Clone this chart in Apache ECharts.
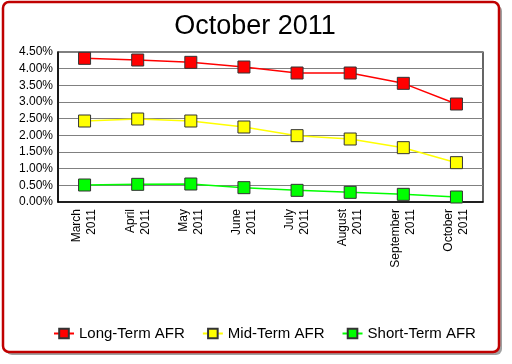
<!DOCTYPE html>
<html><head><meta charset="utf-8">
<script src="https://cdn.jsdelivr.net/npm/echarts@6/dist/echarts.min.js"></script>
<style>html,body{margin:0;padding:0;background:#fff}#c{width:512px;height:364px}</style>
</head><body><div id="c"></div>
<script>
const categories = ['March\n2011','April\n2011','May\n2011','June\n2011','July\n2011','August\n2011','September\n2011','October\n2011'];
const longTerm = [4.31, 4.26, 4.19, 4.05, 3.87, 3.87, 3.56, 2.94];
const midTerm = [2.43, 2.49, 2.43, 2.25, 1.99, 1.89, 1.63, 1.18];
const shortTerm = [0.51, 0.53, 0.54, 0.43, 0.35, 0.29, 0.23, 0.15];
const seriesNames = ['Long-Term AFR', 'Mid-Term AFR', 'Short-Term AFR'];
const colors = ['#ff0000', '#ffff00', '#00ff00'];

const chart = echarts.init(document.getElementById('c'), null, {renderer: 'canvas'});
const font = 'Liberation Sans, Arial, sans-serif';
function mk(name, data, color) {
  return {
    name: name, type: 'line', data: data,
    symbol: 'rect', symbolSize: 12,
    itemStyle: {color: color, borderColor: '#333', borderWidth: 1},
    lineStyle: {color: color, width: 1.5},
    emphasis: {disabled: true}, animation: false
  };
}
chart.setOption({
  animation: false,
  graphic: [
    {type: 'rect', shape: {x: 6, y: 5, width: 496, height: 350, r: 6}, style: {fill: '#777', opacity: 0.7}, z: -2, silent: true},
    {type: 'rect', shape: {x: 3, y: 2, width: 496, height: 350, r: 6}, style: {fill: '#fff', stroke: '#c00000', lineWidth: 2.5}, z: -1, silent: true}
  ],
  title: {text: 'October 2011', left: 250, top: 8, textAlign: 'center',
    textStyle: {fontFamily: font, fontSize: 27, fontWeight: 'normal', color: '#000'}},
  legend: {
    bottom: 18, left: 48, itemWidth: 20, itemHeight: 12, itemGap: 17,
    textStyle: {fontFamily: font, fontSize: 15, color: '#000'},
    data: seriesNames
  },
  grid: {left: 58, right: 29, top: 52, bottom: 162, show: true, borderColor: '#000', borderWidth: 1.2, backgroundColor: 'transparent'},
  xAxis: {
    type: 'category', data: categories, boundaryGap: true,
    axisLine: {lineStyle: {color: '#000', width: 1.5}},
    axisTick: {show: false},
    axisLabel: {rotate: 90, fontFamily: font, fontSize: 12, color: '#000', margin: 7, lineHeight: 15},
    splitLine: {show: false}
  },
  yAxis: {
    type: 'value', min: 0, max: 4.5, interval: 0.5,
    axisLine: {show: true, lineStyle: {color: '#000', width: 1.5}},
    axisTick: {show: false},
    axisLabel: {fontFamily: font, fontSize: 12, color: '#000', margin: 5,
      formatter: v => v.toFixed(2) + '%'},
    splitLine: {show: true, lineStyle: {color: '#808080', width: 1.2}}
  },
  series: [mk(seriesNames[0], longTerm, colors[0]), mk(seriesNames[1], midTerm, colors[1]), mk(seriesNames[2], shortTerm, colors[2])]
});
</script></body></html>
